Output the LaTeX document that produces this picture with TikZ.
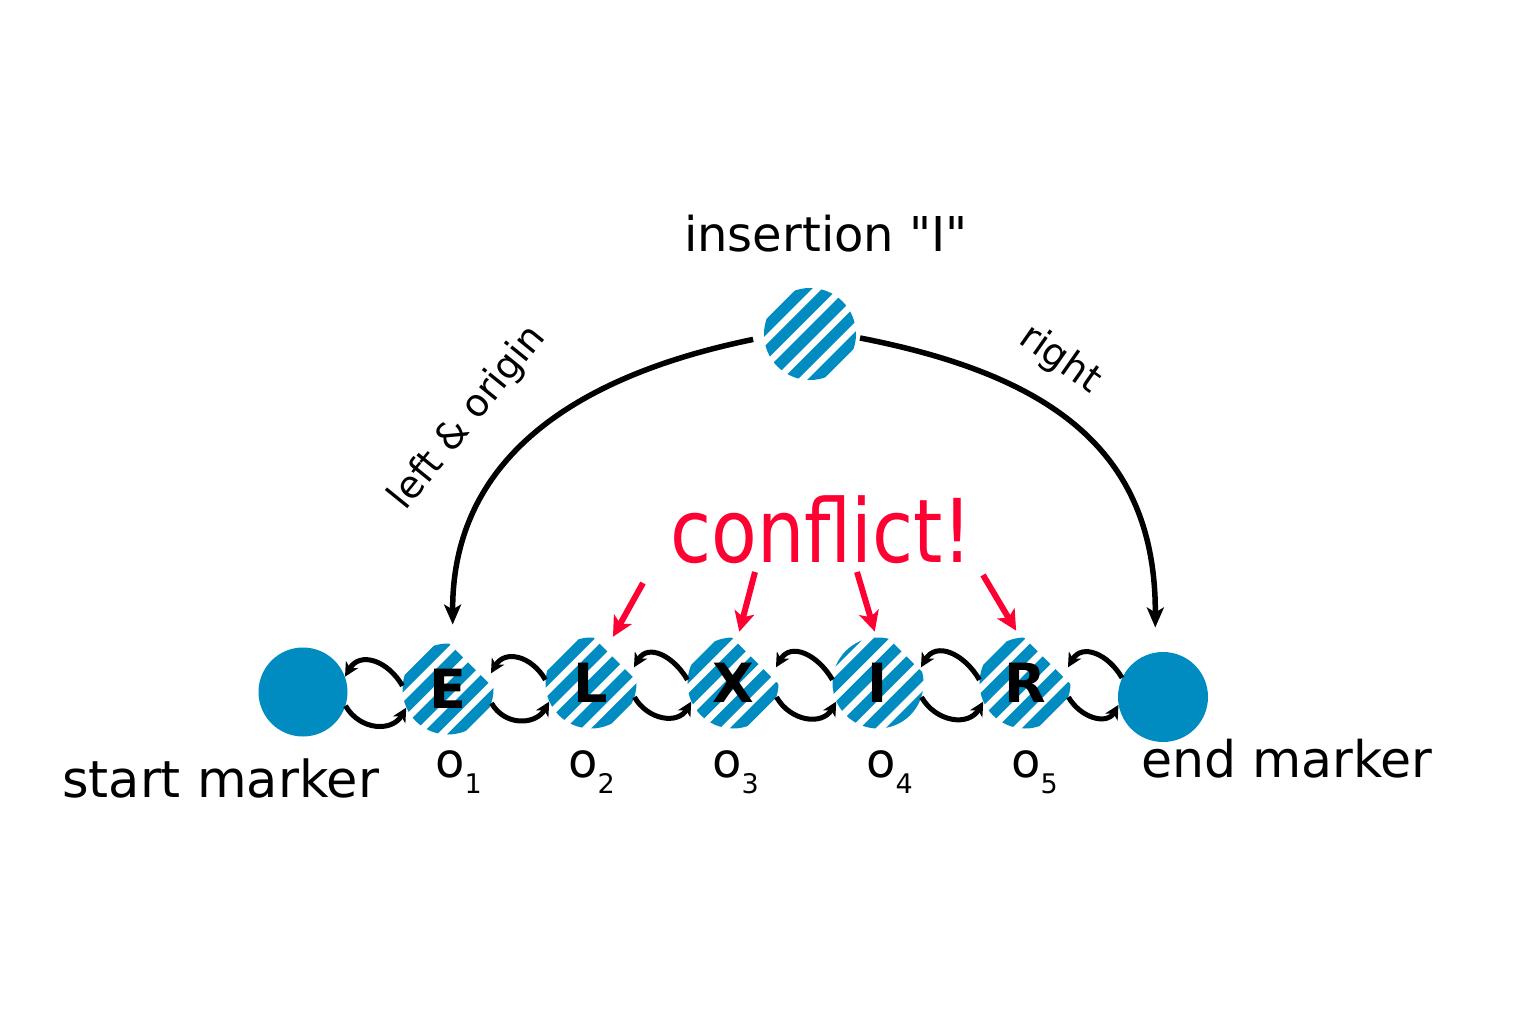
\documentclass[tikz,border=0pt]{standalone}
\usepackage{fontspec}
\setmainfont{DejaVu Sans}
\newfontfamily\condfont{DejaVu Sans}[FakeStretch=0.85]
\newfontfamily\qfont{DejaVu Sans}
\usetikzlibrary{arrows.meta}
\definecolor{mblue}{RGB}{0,140,192}
\definecolor{mred}{RGB}{255,0,51}
\newcommand{\myfs}[1]{\fontsize{#1}{#1}\selectfont}
\begin{document}
\begin{tikzpicture}[x=1pt,y=1pt,
  striped/.style={circle, minimum size=91pt, inner sep=0pt,
    font=\myfs{54}\bfseries,
    path picture={\begin{scope}[shift={(path picture bounding box.center)}]
      \foreach \k in {-3,...,3}{
        \pgfmathsetmacro{\ua}{(\k*18-5.5)*0.7071}
        \pgfmathsetmacro{\ub}{(\k*18+5.5)*0.7071}
        \fill[mblue] (\ua-42.43,-\ua-42.43) -- (\ua+42.43,-\ua+42.43) -- (\ub+42.43,-\ub+42.43) -- (\ub-42.43,-\ub-42.43) -- cycle;}
    \end{scope}}},
  markerdot/.style={circle, fill=mblue, minimum size=89pt, inner sep=0pt},
  conn/.style={line width=5pt, -{Stealth[length=14pt,width=14pt,inset=4pt]}},
  bigarc/.style={line width=5.5pt, -{Stealth[length=20pt,width=17pt,inset=5pt]}},
  redarr/.style={mred, line width=6pt, -{Stealth[length=20pt,width=20pt,inset=5pt]}},
  lbl/.style={inner sep=0pt, anchor=base west},
]
\useasboundingbox (0,0) rectangle (1518,-1032);

% nodes
\node[markerdot] (st) at (303,-692) {};
\node[striped] (E) at (448,-689) {E};
\node[striped] (L) at (591,-683) {L};
\node[striped] (X) at (733,-683) {X};
\node[striped] (I) at (878,-683) {I};
\node[striped] (R) at (1025,-683) {R};
\node[markerdot, minimum size=90pt] (en) at (1163,-697) {};
\node[striped, minimum size=92pt] (ins) at (810,-334) {};

% labels
\node[lbl, font=\myfs{51}] (stlbl) at (62,-797) {start marker};
\node[lbl, font=\myfs{50.5}] (enlbl) at (1141,-777) {end marker};
\node[lbl, font=\qfont\myfs{48}] (inslbl) at (684,-252) {insertion "I"};
\node[lbl, font=\condfont\myfs{88}, text=mred] (conflict) at (670,-562) {conflict!};
\node[font=\myfs{38}, rotate=51, inner sep=0pt] (leftlbl) at (468,-418) {left \& origin};
\node[font=\myfs{38}, rotate=-35, inner sep=0pt] (rightlbl) at (1060,-360) {right};

\node[lbl, font=\myfs{48}] (o1) at (435,-777) {o\raisebox{-16pt}{\myfs{27}1}};
\node[lbl, font=\myfs{48}] (o2) at (568,-777) {o\raisebox{-16pt}{\myfs{27}2}};
\node[lbl, font=\myfs{48}] (o3) at (712,-777) {o\raisebox{-16pt}{\myfs{27}3}};
\node[lbl, font=\myfs{48}] (o4) at (866,-777) {o\raisebox{-16pt}{\myfs{27}4}};
\node[lbl, font=\myfs{48}] (o5) at (1011,-777) {o\raisebox{-16pt}{\myfs{27}5}};

% small links
\foreach \a/\b in {st/E,E/L,L/X,X/I,I/R}{
  \draw[conn] (\b.176) to[out=120,in=60,looseness=1.3] (\a.20);
  \draw[conn] (\a.-18) to[out=-60,in=-120,looseness=1.2] (\b.204);
}
\draw[conn] (en.155) to[out=120,in=60,looseness=1.3] (R.20);
\draw[conn] (R.-18) to[out=-60,in=-120,looseness=1.2] (en.190);

% big arcs
\draw[bigarc, shorten <=11pt, shorten >=19pt] (ins.184) .. controls (565,-378) and (452,-465) .. (E.84);
\draw[bigarc, shorten <=4pt, shorten >=25pt] (ins.-4) .. controls (1050,-375) and (1156,-450) .. (en.100);

% conflict arrows
\coordinate (c1) at (643,-583);
\coordinate (c2) at (755,-572);
\coordinate (c3) at (857,-572);
\coordinate (c4) at (983,-575);
\draw[redarr, shorten >=5.5pt] (c1) -- (L.65);
\draw[redarr, shorten >=6pt] (c2) -- (X.84);
\draw[redarr, shorten >=6pt] (c3) -- (I.92);
\draw[redarr, shorten >=8pt] (c4) -- (R.96);
\end{tikzpicture}
\end{document}
